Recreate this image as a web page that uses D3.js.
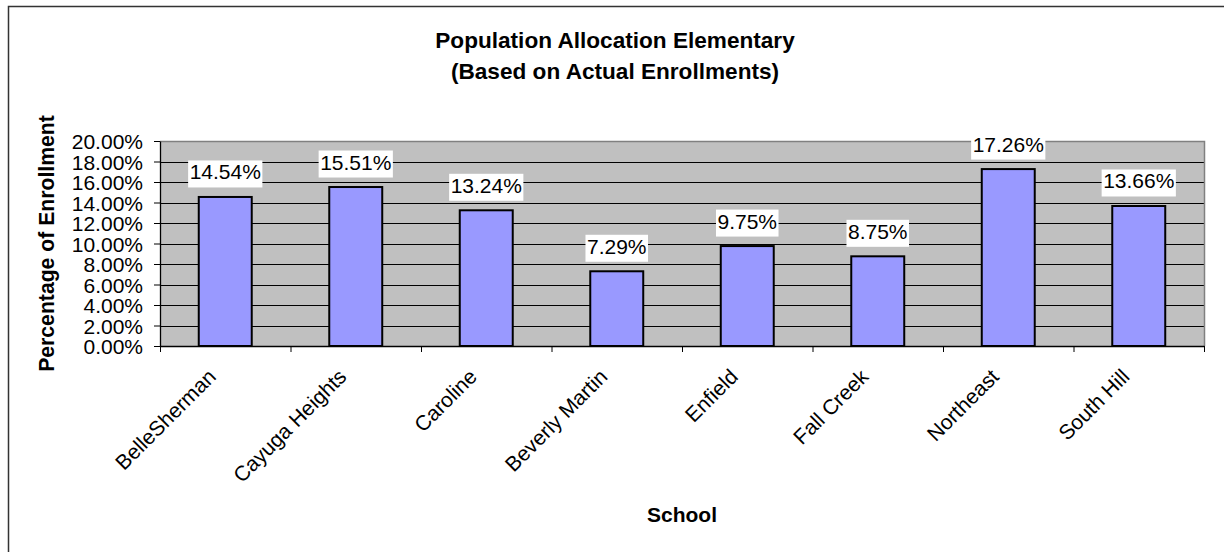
<!DOCTYPE html>
<html>
<head>
<meta charset="utf-8">
<script src="https://cdn.jsdelivr.net/npm/d3@7"></script>
<style>
  body { margin: 0; background: #fff; }
  svg { display: block; font-family: Arial, "Liberation Sans", sans-serif; }
</style>
</head>
<body>
<svg id="chart" width="1224" height="552"></svg>
<script>
var schools = ['BelleSherman', 'Cayuga Heights', 'Caroline', 'Beverly Martin',
  'Enfield', 'Fall Creek', 'Northeast', 'South Hill'];
var shares = [14.54, 15.51, 13.24, 7.29, 9.75, 8.75, 17.26, 13.66];
var yTicks = [0, 2, 4, 6, 8, 10, 12, 14, 16, 18, 20];
var titleLines = ['Population Allocation Elementary', '(Based on Actual Enrollments)'];
var yTitle = 'Percentage of Enrollment';
var xTitle = 'School';

var FS = 21;

var svg = d3.select('#chart');
var plot = {left: 160, right: 1204, top: 141, bottom: 346};

var x = d3.scaleBand().domain(schools).range([plot.left, plot.right]);
var xEdges = d3.scaleLinear().domain([0, schools.length]).range([plot.left, plot.right]);
var y = d3.scaleLinear().domain([0, 20]).range([plot.bottom, plot.top]);
var fmt = function(d) { return d.toFixed(2) + '%'; };

function placeText(sel, px, py, rot) {
  return sel.attr('transform',
    'translate(' + px + ',' + py + ') rotate(' + (rot || 0) + ')');
}

// frame
svg.append('rect')
  .attr('x', 8.5).attr('y', 6.5)
  .attr('width', 1230).attr('height', 560)
  .attr('fill', 'none').attr('stroke', '#333').attr('stroke-width', 1.5);

// plot background
svg.append('rect')
  .attr('x', plot.left).attr('y', plot.top)
  .attr('width', plot.right - plot.left).attr('height', plot.bottom - plot.top)
  .attr('fill', '#c0c0c0');

// grid lines
svg.append('g')
  .selectAll('line')
  .data(yTicks.filter(function(d) { return d > 0 && d < 20; }))
  .join('line')
  .attr('x1', plot.left).attr('x2', plot.right)
  .attr('y1', function(d) { return Math.round(y(d)) + 0.5; })
  .attr('y2', function(d) { return Math.round(y(d)) + 0.5; })
  .attr('stroke', '#000').attr('stroke-width', 1);

// plot border (top / right)
svg.append('path')
  .attr('d', 'M' + plot.left + ',' + (plot.top + 0.5) + 'H' + (plot.right + 0.5) + 'V' + plot.bottom)
  .attr('fill', 'none').attr('stroke', '#808080').attr('stroke-width', 1.5);

// bars
var barW = x.bandwidth() * 0.406;
svg.append('g')
  .selectAll('rect')
  .data(shares)
  .join('rect')
  .attr('x', function(d, i) { return x(schools[i]) + x.bandwidth() / 2 - barW / 2; })
  .attr('y', function(d) { return y(d); })
  .attr('width', barW)
  .attr('height', function(d) { return plot.bottom - y(d); })
  .attr('fill', '#9999ff').attr('stroke', '#000').attr('stroke-width', 2);

// y axis
var yAxis = svg.append('g')
  .attr('transform', 'translate(' + plot.left + ',0)')
  .call(d3.axisLeft(y).tickValues(yTicks).tickFormat(fmt).tickSize(6).tickSizeOuter(0));
yAxis.select('.domain').attr('stroke', '#000').attr('stroke-width', 1.3);
yAxis.selectAll('.tick line').attr('stroke', '#000');
yAxis.selectAll('.tick text')
  .attr('x', -17).attr('dy', '0.36em')
  .attr('font-size', FS).attr('font-family', null).attr('fill', '#000');

// x axis, ticks on category edges
var xAxis = svg.append('g')
  .attr('transform', 'translate(0,' + plot.bottom + ')')
  .call(d3.axisBottom(xEdges).tickValues(d3.range(schools.length + 1))
    .tickFormat('').tickSize(6).tickSizeOuter(0));
xAxis.select('.domain').attr('stroke', '#000').attr('stroke-width', 1.3);
xAxis.selectAll('.tick line').attr('stroke', '#000');

// category labels
svg.append('g')
  .selectAll('text')
  .data(schools)
  .join('text')
  .attr('text-anchor', 'end')
  .attr('font-size', FS)
  .text(function(d) { return d; })
  .each(function(d) {
    placeText(d3.select(this), x(d) + x.bandwidth() / 2 - 8, 378, -45);
  });

// data labels
var labels = svg.append('g')
  .selectAll('g')
  .data(shares)
  .join('g');
labels.each(function(d, i) {
  var g = d3.select(this);
  var cx = x(schools[i]) + x.bandwidth() / 2;
  var base = y(d) - 17.5;
  var t = g.append('text')
    .attr('text-anchor', 'middle')
    .attr('font-size', FS)
    .text(fmt(d));
  placeText(t, cx, base);
  var w = t.node().getComputedTextLength() + 3;
  g.insert('rect', 'text')
    .attr('x', cx - w / 2).attr('y', base - 19)
    .attr('width', w).attr('height', 27)
    .attr('fill', '#fff');
});

// titles
var title = svg.append('g');
titleLines.forEach(function(line, i) {
  placeText(title.append('text')
    .attr('text-anchor', 'middle')
    .attr('font-size', 22.6).attr('font-weight', 'bold')
    .text(line), 615, 48 + i * 31);
});

placeText(svg.append('text')
  .attr('text-anchor', 'middle')
  .attr('font-size', 21.2).attr('font-weight', 'bold')
  .text(yTitle), 54, (plot.top + plot.bottom) / 2, -90);

placeText(svg.append('text')
  .attr('text-anchor', 'middle')
  .attr('font-size', 21).attr('font-weight', 'bold')
  .text(xTitle), (plot.left + plot.right) / 2, 521.5);
</script>
</body>
</html>
